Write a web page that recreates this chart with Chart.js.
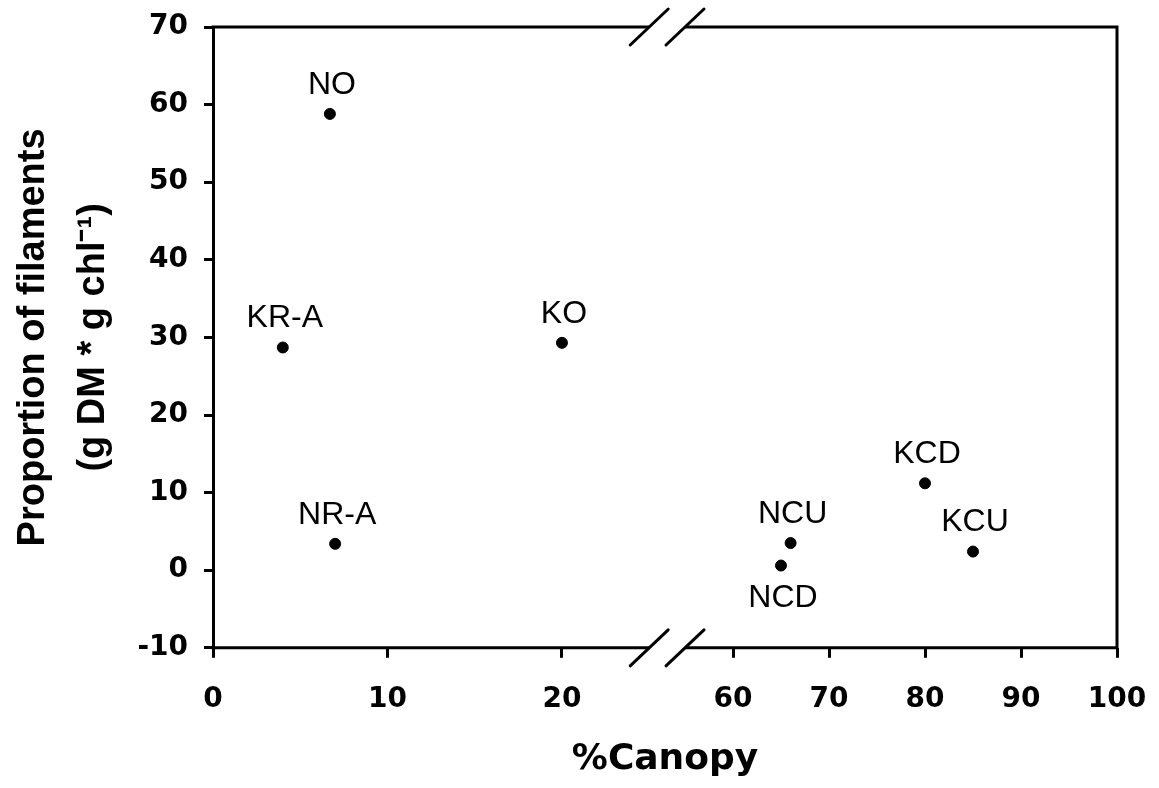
<!DOCTYPE html>
<html>
<head>
<meta charset="utf-8">
<script src="https://cdn.jsdelivr.net/npm/chart.js@4.4.1/dist/chart.umd.min.js"></script>
<style>
  html, body { margin: 0; padding: 0; background: #ffffff; }
  #wrap { width: 1159px; height: 788px; }
</style>
</head>
<body>
<div id="wrap"><canvas id="c" width="1159" height="788"></canvas></div>
<script>
// ---- data ----
const categoriesLeft = ['NO', 'KR-A', 'KO', 'NR-A'];
const canopyLeft = [6.7, 4, 20, 7];
const filamentsLeft = [58.8, 28.7, 29.3, 3.4];

const categoriesRight = ['NCU', 'NCD', 'KCD', 'KCU'];
const canopyRight = [66, 65, 80, 85];
const filamentsRight = [3.5, 0.6, 11.2, 2.4];

const labelsBelow = ['NCD'];

const xTickLabelsLeft = [0, 10, 20];
const xTickLabelsRight = [60, 70, 80, 90, 100];
const yTickLabels = [-10, 0, 10, 20, 30, 40, 50, 60, 70];
const axisBreak = [25, 55];

const xTitle = '%Canopy';
const yTitle = ['Proportion of filaments', '(g DM * g chl\u207B\u00B9)'];

// ---- chart ----
const INK = '#000000';
const LW = 3;

function toPoints(xs, ys) { return xs.map((x, i) => ({ x: x, y: ys[i] })); }

const pointLabels = {
  id: 'pointLabels',
  afterDatasetsDraw(chart) {
    const ctx = chart.ctx;
    ctx.save();
    ctx.fillStyle = INK;
    ctx.font = '32px "Liberation Sans", Arial, sans-serif';
    ctx.textAlign = 'center';
    ctx.textBaseline = 'middle';
    chart.data.datasets.forEach((ds, di) => {
      const meta = chart.getDatasetMeta(di);
      meta.data.forEach((el, i) => {
        const name = ds.names[i];
        const below = labelsBelow.includes(name);
        ctx.fillText(name, el.x + 2, below ? el.y + 33 : el.y - 29);
      });
    });
    ctx.restore();
  }
};

const brokenFrame = {
  id: 'brokenFrame',
  afterDraw(chart) {
    const { ctx, chartArea } = chart;
    const xL = chart.scales.xL, xR = chart.scales.xR;
    const bL = xL.getPixelForValue(axisBreak[0]);
    const bR = xR.getPixelForValue(axisBreak[1]);
    const { left, right, top, bottom } = chartArea;
    ctx.save();
    ctx.strokeStyle = INK;
    ctx.lineWidth = LW;
    ctx.lineCap = 'butt';
    ctx.beginPath();
    ctx.moveTo(right, top - LW / 2); ctx.lineTo(right, bottom + LW / 2);
    [top, bottom].forEach(y => {
      ctx.moveTo(left - LW / 2, y); ctx.lineTo(bL, y);
      ctx.moveTo(bR, y); ctx.lineTo(right + LW / 2, y);
    });
    ctx.stroke();
    ctx.lineCap = 'round';
    ctx.beginPath();
    [top, bottom].forEach(y => {
      [bL, bR].forEach(cx => {
        ctx.moveTo(cx - 19, y + 18);
        ctx.lineTo(cx + 19, y - 18);
      });
    });
    ctx.stroke();
    ctx.restore();
  }
};

const tickFont = { family: '"DejaVu Sans", sans-serif', size: 28, weight: 'bold' };

function xAxis(min, max, ticksArr, weight) {
  return {
    type: 'linear',
    position: 'bottom',
    stack: 'canopy',
    stackWeight: weight,
    min: min,
    max: max,
    afterBuildTicks: (s) => { s.ticks = ticksArr.map(v => ({ value: v })); },
    afterFit: (s) => { s.height = 68; s.paddingLeft = 0; s.paddingRight = 0; },
    border: { display: false },
    grid: { drawOnChartArea: false, drawTicks: true, tickLength: 10, color: INK, lineWidth: LW },
    ticks: { color: INK, font: tickFont, padding: 25, maxRotation: 0, autoSkip: false }
  };
}

new Chart(document.getElementById('c'), {
  type: 'scatter',
  data: {
    datasets: [
      {
        names: categoriesLeft,
        data: toPoints(canopyLeft, filamentsLeft),
        xAxisID: 'xL', yAxisID: 'y',
        backgroundColor: INK, borderColor: INK,
        pointRadius: 5.5, pointHoverRadius: 5.5
      },
      {
        names: categoriesRight,
        data: toPoints(canopyRight, filamentsRight),
        xAxisID: 'xR', yAxisID: 'y',
        backgroundColor: INK, borderColor: INK,
        pointRadius: 5.5, pointHoverRadius: 5.5
      }
    ]
  },
  options: {
    responsive: false,
    animation: false,
    devicePixelRatio: 1,
    layout: { padding: { left: 0, top: 27, right: 42, bottom: 0 } },
    plugins: {
      legend: { display: false },
      tooltip: { enabled: false },
      title: {
        display: true,
        position: 'bottom',
        fullSize: false,
        text: xTitle,
        color: INK,
        font: { family: '"DejaVu Sans", sans-serif', size: 36, weight: 'bold', lineHeight: 1.2 },
        padding: { top: 22, bottom: 7 }
      }
    },
    scales: {
      xL: xAxis(0, 26.02, xTickLabelsLeft, 454),
      xR: xAxis(53.125, 100, xTickLabelsRight, 450),
      y: {
        type: 'linear',
        position: 'left',
        min: -10,
        max: 70,
        afterBuildTicks: (s) => { s.ticks = yTickLabels.map(v => ({ value: v })); },
        afterFit: (s) => { s.width = 213; s.paddingTop = 0; s.paddingBottom = 0; },
        border: { display: true, color: INK, width: LW },
        grid: { drawOnChartArea: false, drawTicks: true, tickLength: 9, color: INK, lineWidth: LW },
        ticks: { color: INK, font: tickFont, padding: 16 },
        title: {
          display: true,
          text: yTitle,
          color: INK,
          font: { family: '"Liberation Sans", Arial, sans-serif', size: 38, weight: 'bold', lineHeight: 1.58 },
          padding: { top: 3, bottom: 0 }
        }
      }
    }
  },
  plugins: [pointLabels, brokenFrame]
});
</script>
</body>
</html>
